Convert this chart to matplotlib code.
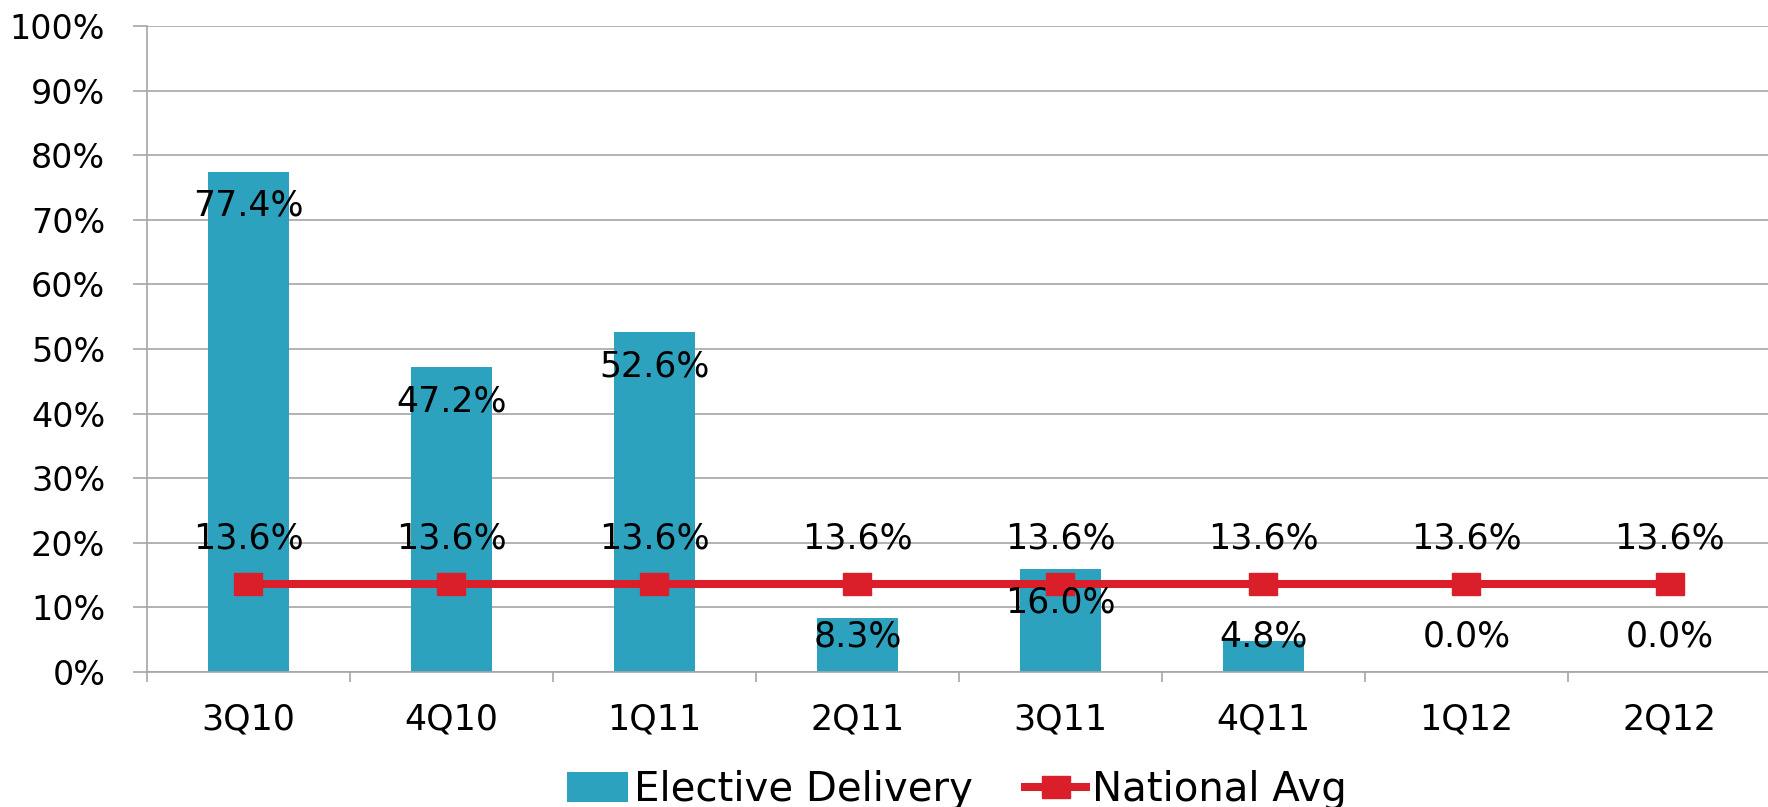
#elective delivery vs national average, quarterly
import matplotlib
matplotlib.use('Agg')
import matplotlib.pyplot as plt
import numpy as np

#data
quarters = ['3Q10', '4Q10', '1Q11', '2Q11', '3Q11', '4Q11', '1Q12', '2Q12']
elective = [77.4, 47.2, 52.6, 8.3, 16.0, 4.8, 0.0, 0.0]
national = [13.6, 13.6, 13.6, 13.6, 13.6, 13.6, 13.6, 13.6]
yticks = [0, 10, 20, 30, 40, 50, 60, 70, 80, 90, 100]

bar_color = '#2CA2BF'
line_color = '#DA1F2A'
grid_color = '#A6A6A6'

plt.rcParams['font.family'] = ['DejaVu Sans']

fig = plt.figure(figsize=(17.68, 8.07), dpi=100)
ax = fig.add_axes([0.0831, 0.1673, 0.9186, 0.8005])

x = np.arange(len(quarters))

#bars and line
bars = ax.bar(x, elective, width=0.4, color=bar_color, zorder=2, label='Elective Delivery')
rect = [(-1, -0.786), (1, -0.786), (1, 0.786), (-1, 0.786), (-1, -0.786)]
line, = ax.plot(x, national, color=line_color, linewidth=5.8, marker=rect, markersize=20,
                zorder=3, label='National Avg')

#data labels
for xi, v in zip(x, elective):
    ax.text(xi, max(v - 6.8, 3.9), f'{v:.1f}%', ha='center', va='baseline',
            fontsize=25, zorder=4)
for xi, v in zip(x, national):
    ax.annotate(f'{v:.1f}%', (xi, v), xytext=(0, 26), textcoords='offset points',
                ha='center', va='baseline', fontsize=25, zorder=4)

#axes styling
ax.set_xlim(-0.5, 7.5)
ax.set_ylim(0, 100)
ax.set_yticks(yticks)
ax.set_yticklabels([f'{t}%' for t in yticks], fontsize=24)
ax.set_xticks(x)
ax.set_xticklabels(quarters, fontsize=25)
ax.set_xticks(np.arange(-0.5, 8, 1), minor=True)
ax.tick_params(axis='x', which='major', length=0, pad=22)
ax.tick_params(axis='x', which='minor', length=7, width=1.2, color=grid_color)
ax.tick_params(axis='y', length=10, width=1.2, color=grid_color, pad=20)
ax.grid(axis='y', color=grid_color, linewidth=1.2, zorder=0)
ax.set_axisbelow(True)
for s in ['top', 'right']:
    ax.spines[s].set_visible(False)
for s in ['left', 'bottom']:
    ax.spines[s].set_color(grid_color)
    ax.spines[s].set_linewidth(1.2)

fig.legend([bars, line], ['Elective Delivery', 'National Avg'], loc='center',
           bbox_to_anchor=(957 / 1768, 1 - 790 / 807), ncol=2,
           frameon=False, fontsize=29, handlelength=1.5, handleheight=0.75,
           handletextpad=0.15, columnspacing=1.3)

fig.savefig('out.png', dpi=100)
